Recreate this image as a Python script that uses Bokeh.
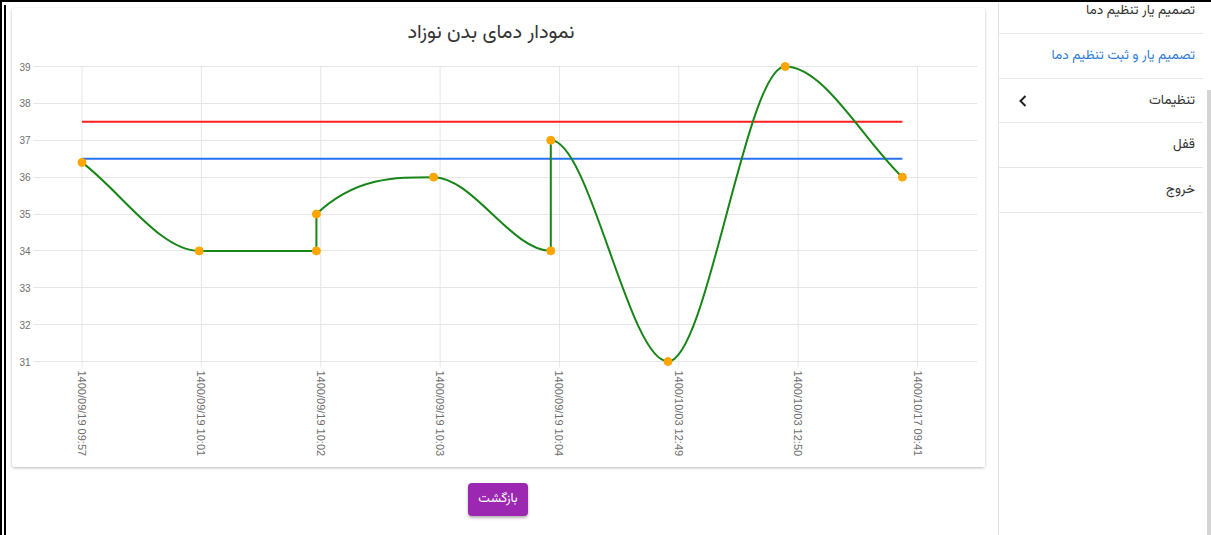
import math
from bokeh.plotting import figure
from bokeh.models import Range1d, FixedTicker, Div, CustomJSTickFormatter
from bokeh.layouts import row, column
from bokeh.embed import file_html
from bokeh.resources import INLINE

# ---------------- data ----------------
chart_title = "نمودار دمای بدن نوزاد"
time_labels = [
    "1400/09/19 09:57",
    "1400/09/19 10:01",
    "1400/09/19 10:02",
    "1400/09/19 10:03",
    "1400/09/19 10:04",
    "1400/10/03 12:49",
    "1400/10/03 12:50",
    "1400/10/17 09:41",
]
point_slot = [0, 1, 2, 2, 3, 4, 4, 5, 6, 7]
temperatures = [36.4, 34, 34, 35, 36, 34, 37, 31, 39, 36]
upper_limit = 37.5
lower_limit = 36.5
y_ticks = [31, 32, 33, 34, 35, 36, 37, 38, 39]
menu_items = ["تصمیم یار تنظیم دما", "تصمیم یار و ثبت تنظیم دما", "تنظیمات", "قفل", "خروج"]
active_menu = 1
submenu_item = 2
button_text = "بازگشت"

# ---------------- geometry helpers ----------------
SLOT_SCALE = 0.9819          # point spacing relative to the label grid spacing
xs = [s * SLOT_SCALE for s in point_slot]
ys = temperatures
label_ticks = list(range(len(time_labels)))


def monotone_beziers(x, y):
    """Chart.js style monotone cubic interpolation -> bezier control points."""
    n = len(x)
    dk = [0.0] * n
    mk = [0.0] * n
    for i in range(n - 1):
        dx = x[i + 1] - x[i]
        if dx == 0:
            dx = 1e-9
        dk[i] = (y[i + 1] - y[i]) / dx

    def sign(v):
        return (v > 0) - (v < 0)

    for i in range(n):
        if i == 0:
            mk[i] = dk[0]
        elif i == n - 1:
            mk[i] = dk[n - 2]
        elif sign(dk[i - 1]) != sign(dk[i]):
            mk[i] = 0.0
        else:
            mk[i] = (dk[i - 1] + dk[i]) / 2
    for i in range(n - 1):
        if abs(dk[i]) < 1e-12:
            mk[i] = mk[i + 1] = 0.0
            continue
        a = mk[i] / dk[i]
        b = mk[i + 1] / dk[i]
        sq = a * a + b * b
        if sq <= 9:
            continue
        tau = 3 / math.sqrt(sq)
        mk[i] = a * tau * dk[i]
        mk[i + 1] = b * tau * dk[i]
    seg = dict(x0=[], y0=[], x1=[], y1=[], cx0=[], cy0=[], cx1=[], cy1=[])
    for i in range(n - 1):
        d = (x[i + 1] - x[i]) / 3
        seg["x0"].append(x[i]); seg["y0"].append(y[i])
        seg["x1"].append(x[i + 1]); seg["y1"].append(y[i + 1])
        seg["cx0"].append(x[i] + d); seg["cy0"].append(y[i] + d * mk[i])
        seg["cx1"].append(x[i + 1] - d); seg["cy1"].append(y[i + 1] - d * mk[i + 1])
    return seg


# ---------------- chart ----------------
GRID_PX = 119.36            # pixels between label grid lines
FRAME_W = 936
Y_PX = 36.875               # pixels per degree
PAD_PX = 5                  # frame padding so end markers are not clipped
x_start = -40.5 / GRID_PX
x_end = x_start + FRAME_W / GRID_PX
y_pad = PAD_PX / Y_PX

FA_FONT = "'Vazirmatn','Noto Sans Arabic','Noto Naskh Arabic','DejaVu Sans',sans-serif"
CARD_W = 973

p = figure(
    width=CARD_W, height=406,
    x_range=Range1d(x_start, x_end),
    y_range=Range1d(y_ticks[0] - y_pad, y_ticks[-1] + y_pad),
    output_backend="svg", toolbar_location=None,
    min_border_left=29, min_border_right=8, min_border_top=0, min_border_bottom=101,
    background_fill_color="white", border_fill_color="white",
)
p.outline_line_color = None

grid_color = "#e6e6e6"
p.xaxis.ticker = FixedTicker(ticks=label_ticks)
p.xaxis.formatter = CustomJSTickFormatter(args=dict(labels=time_labels),
                                          code="return labels[Math.round(tick)] || '';")
p.xaxis.major_label_orientation = -math.pi / 2
p.xaxis.axis_line_color = None
p.xaxis.major_tick_line_color = grid_color
p.xaxis.major_tick_out = 1
p.xaxis.major_tick_in = 0
p.xaxis.minor_tick_line_color = None
p.xaxis.major_label_standoff = 3
p.xaxis.major_label_text_color = "#6e6e6e"
p.xaxis.major_label_text_font = "Liberation Sans"
p.xaxis.major_label_text_font_size = "11px"

p.yaxis.ticker = FixedTicker(ticks=y_ticks)
p.yaxis.axis_line_color = None
p.yaxis.minor_tick_line_color = None
p.yaxis.major_label_text_color = "#6e6e6e"
p.yaxis.major_label_text_font = "Liberation Sans"
p.yaxis.major_label_text_font_size = "10px"
# y tick marks that extend the horizontal grid into the left margin
p.yaxis.major_tick_line_color = grid_color
p.yaxis.major_tick_out = 8
p.yaxis.major_tick_in = 0
p.yaxis.major_label_standoff = 3

p.xgrid.grid_line_color = None
p.ygrid.ticker = FixedTicker(ticks=y_ticks)
p.ygrid.grid_line_color = grid_color

# vertical grid lines from the top tick down to the bottom of the frame
n_lab = len(label_ticks)
p.segment(x0=label_ticks, y0=[y_ticks[0] - y_pad] * n_lab,
          x1=label_ticks, y1=[y_ticks[-1]] * n_lab,
          line_color=grid_color, line_width=1)

# limit lines
p.line([xs[0], xs[-1]], [upper_limit, upper_limit], line_color="#ff1f1f", line_width=2)
p.line([xs[0], xs[-1]], [lower_limit, lower_limit], line_color="#2a70f2", line_width=2)

# smooth temperature curve
seg = monotone_beziers(xs, ys)
p.bezier(x0=seg["x0"], y0=seg["y0"], x1=seg["x1"], y1=seg["y1"],
         cx0=seg["cx0"], cy0=seg["cy0"], cx1=seg["cx1"], cy1=seg["cy1"],
         line_color="#188518", line_width=2)
p.scatter(xs, ys, size=8, fill_color="orange", line_color="orange")

title_div = Div(
    text=(f'<div style="width:958px;height:53px;text-align:center;direction:rtl;'
          f'font-family:{FA_FONT};font-size:20px;color:#333;line-height:30px;padding-top:10px;'
          f'box-sizing:border-box;white-space:nowrap;">{chart_title}</div>'),
    width=CARD_W, height=53, margin=(0, 0, 0, 0),
)

card = column(title_div, p, spacing=0, margin=(8, 0, 0, 12),
              styles={"box-shadow": "0 1px 3px rgba(0,0,0,0.28)", "border-radius": "3px",
                      "background": "white"})

# ---------------- page parts ----------------
button = Div(
    text=(f'<div style="width:60px;height:33px;background:#9c27b0;color:#fff;border-radius:4px;'
          f'box-shadow:0 2px 3px rgba(0,0,0,0.3);display:flex;align-items:center;justify-content:center;'
          f'font-size:13px;font-family:{FA_FONT};">{button_text}</div>'),
    width=60, height=33, margin=(16, 0, 0, 468),
)

rows_html = ""
for i, item in enumerate(menu_items):
    color = "#2f7bd6" if i == active_menu else "#333333"
    chevron = ""
    if i == submenu_item:
        chevron = ('<svg width="8" height="12" style="position:absolute;left:20px;top:16px">'
                   '<polyline points="6.5,1 1.5,6 6.5,11" fill="none" stroke="#222" stroke-width="2"/></svg>')
    rows_html += (f'<div style="position:relative;box-sizing:border-box;height:44.8px;line-height:44px;'
                  f'border-bottom:1px solid #e6e6e6;padding-right:8px;font-size:13.5px;color:{color};'
                  f'white-space:nowrap;">{item}{chevron}</div>')

frame_html = (
    '<div style="position:fixed;left:998px;top:0;width:1px;height:535px;background:#e3e3e3"></div>'
    '<div style="position:fixed;left:0;top:0;width:2px;height:535px;background:#000"></div>'
    '<div style="position:fixed;left:4px;top:5px;width:2px;height:530px;background:#000"></div>'
    '<div style="position:fixed;left:0;top:0;width:1211px;height:2px;background:#000"></div>'
    '<div style="position:fixed;left:1207px;top:90px;width:4px;height:445px;background:#d4d4d4"></div>'
)

sidebar = Div(
    text=(f'<div style="width:205px;box-sizing:border-box;padding-left:1px;'
          f'direction:rtl;font-family:{FA_FONT};">'
          f'<div style="margin-top:-19px">{rows_html}</div></div>{frame_html}'),
    width=205, height=527, margin=(8, 0, 0, 13),
)

left = column(card, button, spacing=0)
root = row(left, sidebar, spacing=0)

open("out.html", "w").write(file_html(root, INLINE))
